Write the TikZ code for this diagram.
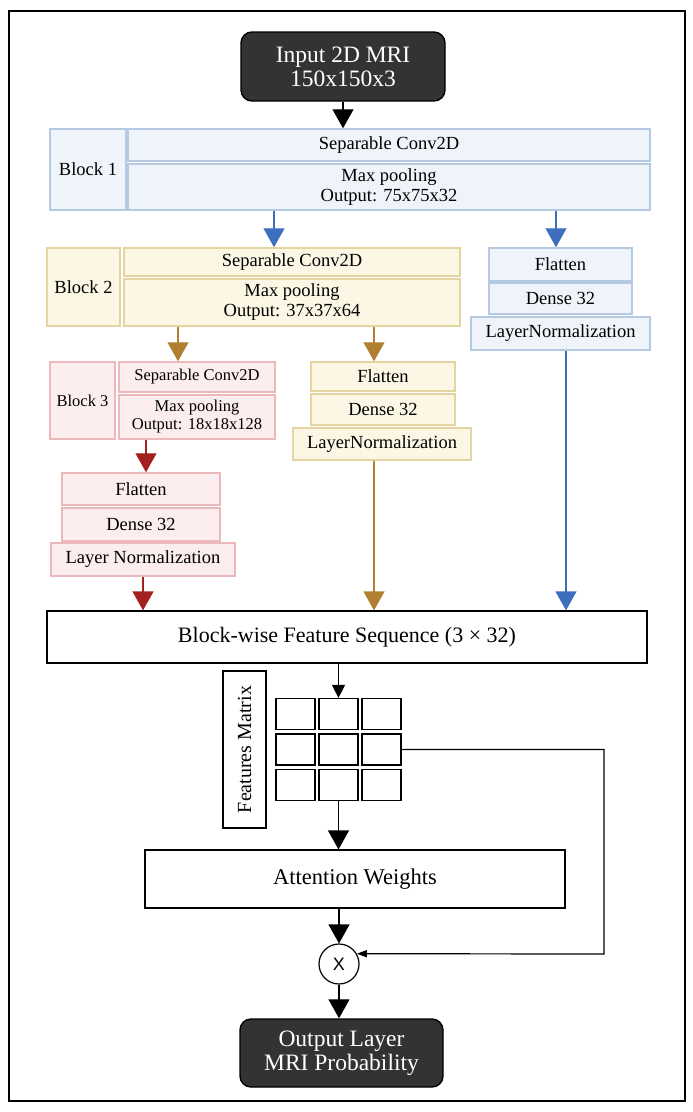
\documentclass[tikz,border=0pt]{standalone}
\usepackage{fontspec}
\setmainfont{Liberation Serif}
\newfontfamily\sansx{Liberation Sans}
\usetikzlibrary{arrows.meta,calc}
\definecolor{bfill}{HTML}{EEF4FA}
\definecolor{bdraw}{HTML}{B5CAE2}
\definecolor{yfill}{HTML}{FCF7E4}
\definecolor{ydraw}{HTML}{E4D4A0}
\definecolor{pfill}{HTML}{FCEDEE}
\definecolor{pdraw}{HTML}{EDB8BB}
\definecolor{barr}{HTML}{3D6FBE}
\definecolor{yarr}{HTML}{B07F32}
\definecolor{parr}{HTML}{A3201E}
\definecolor{dark}{HTML}{333333}
\tikzset{
  box/.style={draw, line width=1.5pt, inner sep=0pt, align=center, font=\fontsize{18.5}{20}\selectfont},
  bluebox/.style={box, fill=bfill, draw=bdraw},
  yelbox/.style={box, fill=yfill, draw=ydraw},
  pinkbox/.style={box, fill=pfill, draw=pdraw, font=\fontsize{16.5}{18}\selectfont},
  darkbox/.style={draw=black, fill=dark, text=white, line width=1.4pt, rounded corners=11pt, inner sep=0pt, align=center, font=\fontsize{23.5}{24}\selectfont},
  plainbox/.style={draw=black, line width=1.2pt, inner sep=0pt, align=center},
  cell/.style={draw=black, line width=1.2pt, minimum width=39pt, minimum height=31pt, inner sep=0pt},
  bigarrow/.style={line width=1.2pt, -{Triangle[length=19pt,width=21pt]}},
  smallarrow/.style={line width=1.2pt, -{Triangle[length=13pt,width=13pt]}},
  fbarrow/.style={line width=1.2pt, -{Triangle[length=10pt,width=7pt]}},
}
\begin{document}
\begin{tikzpicture}[x=1pt,y=-1pt]
\useasboundingbox (0,0) rectangle (693,1112);
\draw[line width=2.5pt] (9,11) rectangle (685,1101);

% input
\node[darkbox, minimum width=204pt, minimum height=69pt] (inp) at (343,66.5) {Input 2D MRI\\150x150x3};

% block 1
\node[bluebox, minimum width=76pt, minimum height=81pt] (b1) at (88,169.5) {Block 1};
\node[bluebox, minimum width=522pt, minimum height=32pt] (b1c) at (389,145) {Separable Conv2D};
\node[bluebox, minimum width=522pt, minimum height=46pt] (b1p) at (389,187) {Max pooling\\Output: 75x75x32};

% block 2
\node[yelbox, minimum width=73pt, minimum height=78pt] (b2) at (83.5,287) {Block 2};
\node[yelbox, minimum width=336pt, minimum height=28pt] (b2c) at (292,262) {Separable Conv2D};
\node[yelbox, minimum width=336pt, minimum height=47pt] (b2p) at (292,302.5) {Max pooling\\Output: 37x37x64};

% blue branch
\node[bluebox, minimum width=143pt, minimum height=33pt] (bf) at (560.5,264.5) {Flatten};
\node[bluebox, minimum width=143pt, minimum height=31pt] (bd) at (560.5,298.5) {Dense 32};
\node[bluebox, minimum width=179pt, minimum height=33pt] (bl) at (560.5,333.5) {LayerNormalization};

% block 3
\node[pinkbox, minimum width=65pt, minimum height=77pt] (b3) at (82.5,400.5) {Block 3};
\node[pinkbox, minimum width=156pt, minimum height=30pt] (b3c) at (197,377) {Separable Conv2D};
\node[pinkbox, minimum width=156pt, minimum height=44pt] (b3p) at (197,417) {Max pooling\\Output: 18x18x128};

% yellow branch
\node[yelbox, minimum width=144pt, minimum height=29pt] (yf) at (383,376.5) {Flatten};
\node[yelbox, minimum width=144pt, minimum height=31pt] (yd) at (383,409.5) {Dense 32};
\node[yelbox, minimum width=178pt, minimum height=32pt] (yl) at (382,444) {LayerNormalization};

% pink branch
\node[pinkbox, font=\fontsize{18.5}{20}\selectfont, minimum width=158pt, minimum height=32pt] (pf) at (141,489) {Flatten};
\node[pinkbox, font=\fontsize{18.5}{20}\selectfont, minimum width=158pt, minimum height=33pt] (pd) at (141,524.5) {Dense 32};
\node[pinkbox, font=\fontsize{18.5}{20}\selectfont, minimum width=184pt, minimum height=33pt] (pl) at (143,559.5) {Layer Normalization};

% sequence
\node[plainbox, minimum width=600pt, minimum height=52pt, font=\fontsize{22}{24}\selectfont] (seq) at (347,637) {Block-wise Feature Sequence (3 × 32)};

% features matrix
\node[plainbox, minimum width=43pt, minimum height=157pt] (fm) at (244.5,749.5) {};
\node[rotate=90, font=\fontsize{20}{21}\selectfont] (fmt) at (fm.center) {Features Matrix};
\node[cell] (c11) at (295.5,714) {};
\node[cell] (c12) at (338.5,714) {};
\node[cell] (c13) at (381.5,714) {};
\node[cell] (c21) at (295.5,749.5) {};
\node[cell] (c22) at (338.5,749.5) {};
\node[cell] (c23) at (381.5,749.5) {};
\node[cell] (c31) at (295.5,785) {};
\node[cell] (c32) at (338.5,785) {};
\node[cell] (c33) at (381.5,785) {};

% attention
\node[plainbox, minimum width=420pt, minimum height=58pt, font=\fontsize{22.5}{24}\selectfont] (att) at (355,879) {Attention Weights};
\node[draw=black, line width=1.2pt, circle, minimum size=40pt, inner sep=0pt, font=\sansx\fontsize{18}{20}\selectfont] (mul) at (339,964) {X};
\node[darkbox, minimum width=203pt, minimum height=68pt] (out) at (341.5,1053) {Output Layer\\MRI Probability};

% coordinates for arrow columns
\coordinate (xa) at (274,0);
\coordinate (xb) at (556,0);
\coordinate (xc) at (178,0);
\coordinate (xd) at (374,0);
\coordinate (xe) at (146,0);
\coordinate (xf) at (143,0);
\coordinate (xg) at (566,0);
\coordinate (xh) at (338.5,0);
\coordinate (fb) at (604,954);

% arrows
\draw[bigarrow, black] (inp.south) -- (inp.south |- b1c.north);
\draw[bigarrow, barr] (b1p.south -| xa) -- (b2c.north -| xa);
\draw[bigarrow, barr] (b1p.south -| xb) -- (bf.north -| xb);
\draw[bigarrow, yarr] (b2p.south -| xc) -- (b3c.north -| xc);
\draw[bigarrow, yarr] (b2p.south -| xd) -- (yf.north -| xd);
\draw[bigarrow, parr] (b3p.south -| xe) -- (pf.north -| xe);
\draw[bigarrow, parr] (pl.south -| xf) -- (seq.north -| xf);
\draw[bigarrow, yarr] (yl.south -| xd) -- (seq.north -| xd);
\draw[bigarrow, barr] (bl.south -| xg) -- (seq.north -| xg);
\draw[smallarrow, black] (seq.south -| xh) -- (c12.north);
\draw[bigarrow, black] (c32.south) -- (att.north -| c32.south);
\draw[bigarrow, black] (att.south -| mul.north) -- (mul.north);
\draw[bigarrow, black] (mul.south) -- (out.north -| mul.south);
\draw[fbarrow, black] (c23.east) -| (fb) -- (mul.30);
\end{tikzpicture}
\end{document}
